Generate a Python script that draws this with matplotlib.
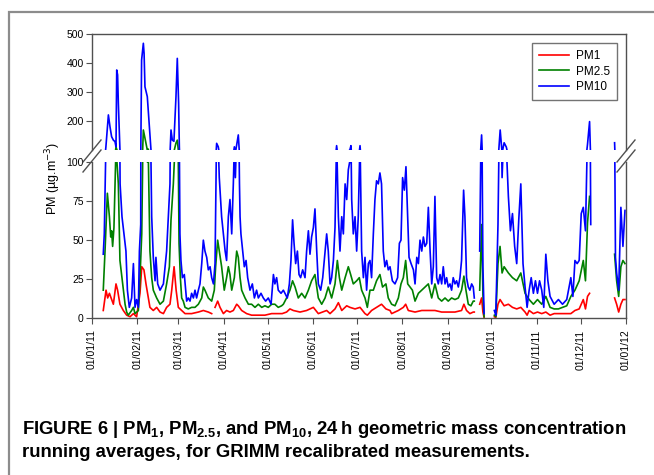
import numpy as np
import matplotlib
matplotlib.use('Agg')
import matplotlib.pyplot as plt
import matplotlib.dates as mdates
from matplotlib import font_manager
from matplotlib.patches import Rectangle
from matplotlib.lines import Line2D
import datetime as dt

nan = np.nan

# days since 01/01/2011, values in ug/m3
pm10_day = [7.7, 8.4, 8.9, 9.5, 11.2, 12.3, 13.4, 14.6, 15.7, 16.4, 16.9, 17.5, 18.0, 18.7, 19.2,
            20.5, 23.2, 24.2, 25.5, 27.1, 28.3, 29.4, 30.5, 31.7, 32.4, 33.3, 33.9, 35.1, 35.6, 36.2,
            37.8, 39.2, 40.1, 40.8, 41.9, 43.1, 43.7, 44.9, 46.5, 48.8, 51.0, 52.2, 53.3, 54.0, 54.9,
            56.0, 57.4, 58.3, 59.2, 59.7, 60.1, 60.8, 61.8, 63.1, 64.7, 65.8, 67.0, 68.1, 69.3, 70.4,
            71.5, 72.7, 73.8, 75.0, 76.1, 77.2, 78.4, 79.5, 80.7, 81.8, 83.0, 84.1, 84.7, 85.2, 86.3,
            87.0, 88.6, 89.8, 91.0, 92.0, 93.2, 94.3, 95.5, 96.6, 97.3, 98.0, 99.0, 100.0, 100.8, 101.2,
            101.8, 103.0, 104.1, 105.3, 106.4, 108.0, 109.6, 111.0, 112.5, 113.7, 115.5, 117.1, 118.7, 120.5, 122.4,
            124.0, 125.0, 126.2, 127.3, 129.2, 130.8, 131.9, 133.5, 134.9, 136.0, 137.1, 138.1, 139.2, 140.4, 141.5,
            142.6, 144.0, 145.6, 146.7, 147.9, 149.0, 150.1, 151.3, 152.4, 153.6, 154.7, 156.3, 157.7, 159.3, 160.4,
            161.5, 162.7, 163.8, 165.0, 166.1, 167.2, 168.4, 169.5, 170.7, 171.8, 173.0, 174.1, 175.2, 176.3, 177.0,
            177.5, 178.6, 179.8, 180.9, 182.0, 183.2, 184.3, 185.5, 186.6, 187.7, 188.9, 190.0, 191.1, 192.3, 193.4,
            194.5, 195.7, 196.8, 197.9, 199.1, 200.2, 201.4, 202.5, 203.7, 205.3, 207.1, 208.9, 210.1, 211.2, 212.3,
            213.5, 214.6, 215.8, 216.7, 218.1, 219.7, 220.8, 222.0, 223.1, 224.2, 225.4, 226.5, 227.6, 228.8, 229.9,
            231.1, 232.2, 233.3, 234.4, 235.6, 236.7, 237.9, 239.0, 240.1, 241.3, 242.4, 243.5, 244.7, 245.8, 246.9,
            248.1, 249.2, 250.4, 251.5, 252.6, 254.0, 254.9, 256.0, 257.2, 258.3, 259.5, 260.6, 261.3, 262.5, 265.0,
            266.3, 267.2, 268.0, 269.0, 275.0, 276.0, 277.5, 279.0, 280.3, 281.7, 283.2, 284.6, 286.0, 287.4, 288.9,
            290.3, 291.7, 293.1, 294.6, 296.0, 297.4, 298.8, 300.2, 301.7, 303.1, 304.5, 305.9, 307.4, 308.8, 310.2,
            311.6, 313.1, 315.9, 318.8, 321.6, 324.5, 327.3, 328.7, 330.1, 331.6, 333.0, 334.4, 335.8, 337.3, 338.7,
            340.1, 340.9, 342.0, 357.2, 357.8, 358.6, 360.0, 361.5, 362.9, 364.3]
pm10 = [41, 54, 80, 111, 221, 180, 146, 134, 129, 111, 376, 359, 262, 159, 86,
        65, 43, 18, 7, 13, 35, 7, 12, 7, 43, 60, 410, 468, 433, 318,
        284, 180, 111, 65, 39, 24, 39, 22, 18, 22, 43, 65, 86, 169, 134,
        130, 284, 416, 262, 111, 54, 37, 26, 28, 11, 13, 11, 16, 13, 18,
        13, 18, 22, 35, 50, 43, 39, 31, 33, 26, 22, 35, 86, 123, 111,
        90, 65, 54, 43, 37, 65, 76, 54, 86, 111, 90, 120, 152, 86, 65,
        54, 43, 33, 37, 26, 18, 22, 13, 18, 13, 16, 13, 11, 13, 9,
        28, 22, 26, 18, 16, 18, 16, 13, 22, 37, 63, 48, 35, 43, 28,
        26, 31, 26, 43, 56, 41, 52, 58, 70, 43, 22, 18, 26, 43, 54,
        43, 22, 26, 37, 58, 115, 65, 43, 65, 54, 86, 76, 95, 101, 115,
        76, 54, 65, 43, 65, 115, 43, 26, 39, 18, 35, 37, 26, 54, 76,
        88, 86, 93, 86, 43, 33, 37, 31, 33, 24, 22, 26, 48, 50, 90,
        82, 97, 65, 39, 35, 31, 22, 39, 35, 50, 43, 52, 46, 48, 71,
        43, 22, 33, 78, 26, 22, 28, 22, 33, 22, 26, 20, 22, 18, 26,
        22, 24, 20, 26, 37, 82, 65, 26, 20, 18, 22, 20, 13, nan, 43,
        152, 33, 3, nan, 5, 2, 60, 169, 90, 125, 110, 78, 56, 67, 46,
        35, 63, 86, 35, 20, 7, 18, 26, 16, 24, 16, 24, 18, 7, 41,
        24, 14, 9, 12, 9, 12, 26, 14, 37, 35, 37, 67, 71, 56, 120,
        198, 60, nan, 125, 39, 29, 18, 71, 46, 69]

pm25_day = [7.7, 8.9, 10.5, 11.9, 12.8, 13.4, 14.1, 15.0, 16.4, 18.0, 19.1, 21.0, 22.6, 23.7, 24.8,
            27.1, 28.3, 29.4, 31.7, 32.8, 34.0, 34.6, 35.1, 36.9, 37.8, 38.5, 39.6, 40.8, 41.9, 44.2,
            46.5, 48.8, 51.0, 52.9, 54.0, 55.6, 57.4, 58.3, 59.0, 59.5, 60.4, 61.3, 62.4, 63.6, 65.8,
            68.1, 70.4, 72.7, 75.0, 76.1, 77.2, 79.5, 81.8, 83.6, 84.5, 85.9, 87.0, 88.6, 90.4, 92.0,
            93.2, 94.3, 95.5, 97.3, 98.9, 100.0, 101.2, 102.3, 104.6, 106.9, 109.1, 111.4, 113.7, 116.0, 118.2,
            120.5, 122.8, 125.0, 127.3, 129.6, 130.8, 133.0, 135.3, 137.1, 138.8, 141.0, 143.3, 145.6, 147.9, 150.1,
            152.4, 154.7, 157.0, 159.3, 161.5, 163.8, 166.1, 167.7, 169.1, 170.7, 173.0, 175.2, 176.8, 178.6, 180.9,
            182.7, 184.3, 186.6, 188.2, 190.0, 192.3, 194.5, 196.8, 198.6, 200.9, 202.5, 204.8, 207.1, 209.4, 211.2,
            212.8, 214.4, 215.8, 217.4, 219.0, 220.8, 223.1, 225.4, 227.6, 229.9, 232.2, 234.4, 236.7, 239.0, 241.3,
            243.5, 245.8, 248.1, 250.4, 252.6, 254.2, 255.6, 257.2, 259.0, 260.6, 261.3, 262.5, 265.0, 266.3, 267.2,
            268.0, 269.0, 275.0, 276.0, 277.5, 278.9, 280.3, 281.7, 284.6, 287.4, 290.3, 293.1, 296.0, 298.8, 301.7,
            304.5, 307.4, 310.2, 313.1, 315.9, 318.8, 321.6, 324.5, 327.3, 330.1, 333.0, 335.8, 337.3, 338.7, 340.1,
            342.0, 357.2, 358.6, 360.0, 361.5, 362.9, 364.3]
pm25 = [18, 43, 80, 65, 52, 56, 46, 58, 110, 86, 37, 22, 9, 4, 2,
        5, 7, 3, 5, 26, 54, 97, 169, 124, 100, 103, 43, 26, 18, 13,
        9, 11, 22, 33, 63, 86, 124, 134, 100, 48, 26, 13, 11, 7, 6,
        7, 7, 9, 13, 20, 18, 13, 11, 18, 33, 50, 43, 33, 18, 26,
        33, 28, 18, 26, 43, 39, 26, 18, 13, 9, 9, 7, 9, 7, 8,
        7, 9, 9, 7, 8, 9, 13, 18, 24, 20, 13, 16, 13, 18, 24,
        28, 13, 9, 13, 20, 13, 22, 37, 26, 18, 26, 33, 28, 22, 24,
        26, 18, 13, 7, 18, 18, 24, 28, 20, 22, 13, 9, 8, 13, 22,
        26, 37, 22, 20, 18, 11, 16, 18, 20, 22, 13, 22, 13, 11, 13,
        11, 13, 12, 13, 18, 27, 18, 9, 8, 11, 11, nan, 18, 60, 15,
        1, nan, 2, 1, 35, 46, 29, 33, 29, 26, 24, 29, 16, 12, 9,
        12, 9, 14, 7, 6, 6, 7, 8, 14, 18, 24, 37, 24, 61, 78,
        nan, 41, 24, 14, 33, 37, 35]

pm1_day = [7.7, 9.6, 10.7, 11.9, 13.4, 14.6, 16.4, 17.5, 19.1, 21.4, 23.7, 26.0, 28.3, 30.5, 32.8,
           34.0, 35.5, 36.9, 38.5, 39.6, 41.9, 44.2, 46.5, 48.8, 51.0, 53.3, 54.5, 56.1, 57.5, 59.0,
           61.3, 63.6, 68.1, 72.7, 76.1, 79.5, 81.8, 83.0, 84.1, 85.9, 87.5, 89.8, 92.0, 94.3, 96.6,
           98.9, 100.0, 102.3, 105.7, 109.1, 113.7, 118.2, 122.8, 127.3, 130.0, 133.0, 135.3, 137.6, 142.2, 146.7,
           151.3, 154.7, 160.4, 162.7, 166.1, 168.4, 170.7, 174.1, 176.3, 179.8, 183.2, 186.6, 188.2, 191.1, 194.5,
           197.9, 200.9, 203.7, 204.8, 209.4, 212.8, 214.4, 216.2, 220.8, 225.4, 229.9, 234.4, 239.0, 243.5, 248.1,
           252.6, 254.2, 256.0, 258.3, 260.6, 261.3, 262.5, 265.0, 266.3, 267.2, 268.0, 269.0, 275.0, 276.0, 277.5,
           278.9, 281.7, 284.6, 287.4, 290.3, 293.1, 296.0, 297.4, 298.8, 301.7, 304.5, 307.4, 310.2, 313.1, 315.9,
           321.6, 327.3, 330.1, 333.0, 335.8, 337.3, 338.7, 340.1, 342.0, 357.2, 358.6, 360.0, 361.5, 362.9, 364.3]
pm1 = [5, 18, 13, 16, 12, 9, 22, 18, 9, 5, 2, 1, 3, 1, 16,
       33, 31, 22, 13, 7, 5, 7, 4, 3, 7, 9, 18, 33, 18, 7,
       5, 3, 3, 4, 5, 4, 3, nan, 7, 11, 7, 3, 5, 4, 5,
       9, 8, 5, 3, 2, 2, 2, 3, 3, 3, 4, 6, 5, 4, 5,
       7, 3, 5, 3, 6, 10, 5, 8, 7, 6, 7, 3, 2, 5, 7,
       9, 6, 5, 3, 5, 7, 9, 5, 4, 5, 5, 5, 4, 4, 4,
       5, 9, 5, 3, 4, 4, nan, 9, 13, 4, 0.5, nan, 1, 0.5, 9,
       12, 8, 9, 7, 6, 7, 4, 2, 5, 3, 4, 3, 4, 2, 3,
       3, 3, 5, 6, 12, 6, 14, 16, nan, 13, 9, 4, 9, 12, 12]

series = [('PM1', pm1_day, pm1, '#ff0000'),
          ('PM2.5', pm25_day, pm25, '#008000'),
          ('PM10', pm10_day, pm10, '#0000ff')]

names = {f.name for f in font_manager.fontManager.ttflist}
base_font = 'Liberation Sans' if 'Liberation Sans' in names else 'DejaVu Sans'
plt.rcParams['font.family'] = [base_font, 'DejaVu Sans']
plt.rcParams['mathtext.fontset'] = 'custom'
plt.rcParams['mathtext.rm'] = base_font + ':bold'
plt.rcParams['mathtext.it'] = base_font + ':bold'
plt.rcParams['mathtext.bf'] = base_font + ':bold'

W, H = 654, 475
fig = plt.figure(figsize=(W / 100, H / 100), dpi=100)

# grey frame of the figure panel
fig.add_artist(Rectangle((9 / W, -0.1), 1.0, 1 - 12 / H + 0.1, transform=fig.transFigure,
                         fill=False, edgecolor='#8c8c8c', linewidth=1.6))

left, right = 92 / W, 626 / W
ax_hi = fig.add_axes([left, 1 - 150 / H, right - left, (150 - 34) / H])
ax_lo = fig.add_axes([left, 1 - 318.3 / H, right - left, (318.3 - 162) / H])

base = mdates.date2num(dt.datetime(2011, 1, 1))
spine_col = '#505050'
for ax in (ax_hi, ax_lo):
    for name, d, v, c in series:
        ax.plot(base + np.array(d), v, color=c, linewidth=1.2, label=name)
    ax.set_xlim(base, base + 365)
    for s in ax.spines.values():
        s.set_color(spine_col)
        s.set_linewidth(1.0)
    ax.tick_params(direction='out', length=4, width=0.8, color=spine_col,
                   labelsize=7.5, pad=2)

ax_hi.set_ylim(100, 500)
ax_hi.set_yticks([200, 300, 400, 500])
ax_hi.spines['bottom'].set_visible(False)
ax_hi.tick_params(axis='x', bottom=False, labelbottom=False)

ax_lo.set_ylim(0, 100)
ax_lo.set_yticks([0, 25, 50, 75, 100])
ax_lo.spines['top'].set_visible(False)
ax_lo.xaxis.set_major_locator(mdates.MonthLocator())
ax_lo.xaxis.set_major_formatter(mdates.DateFormatter('%d/%m/%y'))
ax_lo.tick_params(axis='x', labelrotation=90, labelsize=7.5, pad=4)

# axis break marks
for xc in (92, 626):
    for dy in (-5, 5):
        yc = 156 + dy
        fig.add_artist(Line2D([(xc - 9) / W, (xc + 9) / W],
                              [1 - (yc + 11) / H, 1 - (yc - 11) / H],
                              transform=fig.transFigure, color=spine_col, linewidth=1.0))

fig.text(53 / W, 1 - 178 / H, 'PM (µg.m$^{-3}$)', rotation=90, ha='center', va='center',
         fontsize=9, math_fontfamily='dejavusans')

leg = ax_hi.legend(loc='upper right', bbox_to_anchor=(617 / W, 1 - 43 / H),
                   bbox_transform=fig.transFigure, fontsize=8.5, frameon=True, fancybox=False,
                   handlelength=2.5, handletextpad=0.6, borderpad=0.6, labelspacing=0.3,
                   borderaxespad=0)
leg.get_frame().set_edgecolor(spine_col)
leg.get_frame().set_linewidth(1.0)

cap1 = 'FIGURE 6 | PM$_{1}$, PM$_{2.5}$, and PM$_{10}$, 24\u2009h geometric mass concentration'
cap2 = 'running averages, for GRIMM recalibrated measurements.'
fig.text(22 / W, 1 - 434 / H, cap1, weight='bold', fontsize=13.3, va='baseline')
fig.text(22 / W, 1 - 457 / H, cap2, weight='bold', fontsize=13.3, va='baseline')

fig.savefig('out.png', dpi=100)
